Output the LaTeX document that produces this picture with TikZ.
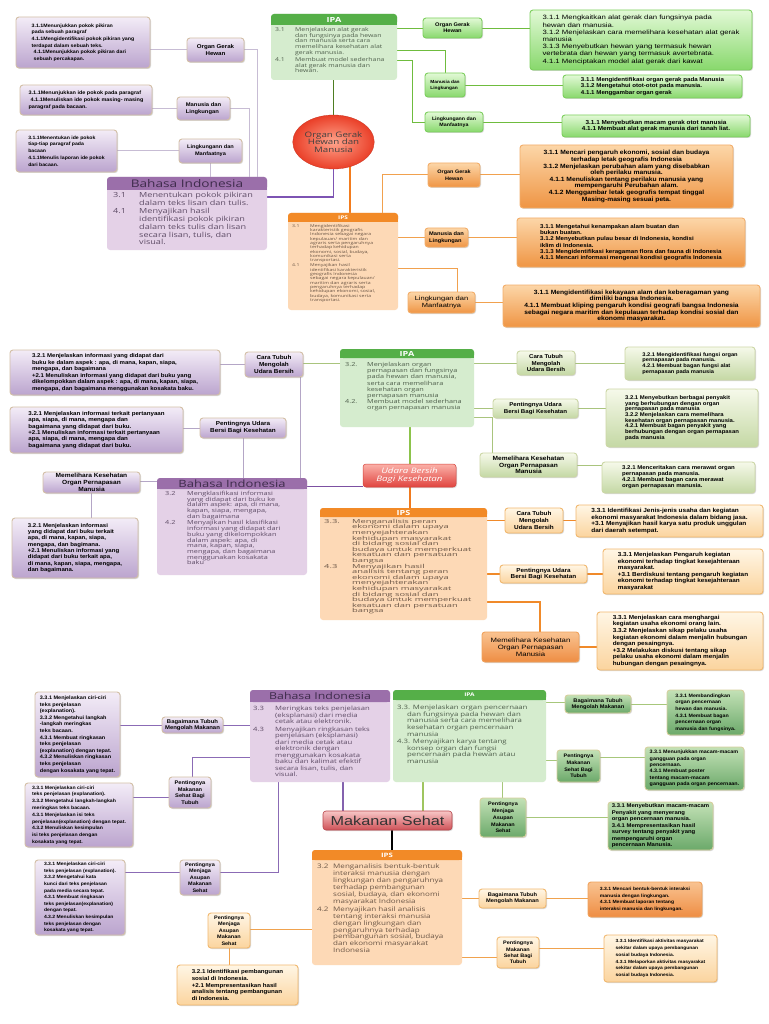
\documentclass[tikz,border=0pt]{standalone}
\usepackage{fontspec}
\setmainfont{Liberation Sans}
\newfontfamily\fb[FakeStretch=1.1]{Liberation Sans}
\newfontfamily\fg[FakeStretch=1.25]{Liberation Sans}
\newfontfamily\fs[FakeStretch=1.3]{Open Sans}
\newfontfamily\fsw[FakeStretch=1.7]{Open Sans}
\usetikzlibrary{shadows,shapes.geometric}
\pgfdeclarelayer{bg}\pgfsetlayers{bg,main}
\newcommand\nmb[2]{\makebox[#1][l]{#2}}
\newcommand\nxt[1]{\hspace*{#1}}
\newcommand\bx[8][]{%
 \pgfmathsetmacro\bxw{#6-#4}\pgfmathsetmacro\bxh{#7-#5}%
 \node[#3,minimum width=\bxw pt,minimum height=\bxh pt,#1] (#2) at ({(#4+#6)/2},{(#5+#7)/2}) {#8};}
\newcommand\subj[8]{%
 \pgfmathsetmacro\bxw{#4-#2}\pgfmathsetmacro\bxh{#5-#3}%
 \node[#7body,minimum width=\bxw pt,minimum height=\bxh pt] (#1) at ({(#2+#4)/2},{(#3+#5)/2}) {};
 \fill[#7hdr,rounded corners=3pt] (#2,#3) rectangle (#4,#6);
 \fill[#7hdr] (#2,{(#3+#6)/2}) rectangle (#4,#6);
 \node[#7ttl] (#1t) at ({(#2+#4)/2},{(#3+#6)/2}) {#8};}
\definecolor{purT}{HTML}{F3ECF7}\definecolor{purB}{HTML}{BBA4CE}\definecolor{purD}{HTML}{D3BFA6}
\definecolor{bhsH}{HTML}{9B6FAA}\definecolor{bhsB}{HTML}{E4D1E7}\definecolor{bhsT}{HTML}{3E2B4B}\definecolor{bhsX}{HTML}{5E4C66}
\definecolor{ipaH}{HTML}{55AF48}\definecolor{ipaB}{HTML}{D5ECCE}\definecolor{ipaX}{HTML}{4E5E4B}
\definecolor{ipsH}{HTML}{F28A27}\definecolor{ipsB}{HTML}{FDD9B6}\definecolor{ipsX}{HTML}{6B5646}
\definecolor{gAT}{HTML}{E2F9D6}\definecolor{gAB}{HTML}{88D86C}\definecolor{gAD}{HTML}{7DCF5E}
\definecolor{gBT}{HTML}{F6F9EA}\definecolor{gBB}{HTML}{C4D8A4}\definecolor{gBD}{HTML}{CCD7A6}
\definecolor{gCT}{HTML}{C3E1B6}\definecolor{gCB}{HTML}{6BA96A}\definecolor{gCD}{HTML}{D6CF9C}
\definecolor{oAT}{HTML}{FCD6A8}\definecolor{oAB}{HTML}{EF9544}\definecolor{oAD}{HTML}{F3AE6A}
\definecolor{oBT}{HTML}{FFF6E5}\definecolor{oBB}{HTML}{FBD49E}\definecolor{oBD}{HTML}{F1B86F}
\definecolor{oDT}{HTML}{F9C391}\definecolor{oDB}{HTML}{EE8D43}\definecolor{oDD}{HTML}{F0A25C}
\definecolor{cirI}{HTML}{FFA48C}\definecolor{cirO}{HTML}{EA3F28}
\definecolor{udT}{HTML}{FBB1A9}\definecolor{udB}{HTML}{E0443F}\definecolor{udD}{HTML}{D5433C}
\definecolor{mkT}{HTML}{F7C6C6}\definecolor{mkB}{HTML}{CF5157}\definecolor{mkD}{HTML}{B9464C}
\definecolor{lnPa}{HTML}{C7BCD4}\definecolor{lnGa}{HTML}{6FBC3E}\definecolor{lnOa}{HTML}{F1A14E}
\definecolor{thGa}{HTML}{4E7D22}\definecolor{thPa}{HTML}{7D54B3}\definecolor{thOa}{HTML}{F27C1E}
\definecolor{lnPb}{HTML}{B4A6C6}\definecolor{lnGb}{HTML}{A9C47D}\definecolor{lnOb}{HTML}{F08A2A}
\definecolor{thGb}{HTML}{8CC34B}\definecolor{thPb}{HTML}{7C50A2}\definecolor{thOb}{HTML}{F07A1E}
\definecolor{lnPc}{HTML}{8B6BB5}\definecolor{lnGc}{HTML}{A7C77B}\definecolor{lnOc}{HTML}{F0A24E}
\definecolor{thPc}{HTML}{8462AE}\definecolor{thGc}{HTML}{9FC55F}
\begin{document}
\begin{tikzpicture}[x=1pt,y=-1pt,
 fz/.style 2 args={font=\fb\bfseries\fontsize{#1}{#2}\selectfont},
 bxbase/.style={rectangle,rounded corners=3pt,line width=0.9pt,inner sep=1.2pt,text=black,
   drop shadow={shadow xshift=1pt,shadow yshift=-1pt,opacity=0.3}},
 pbox/.style={bxbase,draw=purD,top color=purT,bottom color=purB,align=left,fz={5}{6.5}},
 pnode/.style={pbox,align=center},
 gboxA/.style={bxbase,draw=gAD,top color=gAT,bottom color=gAB,align=left,fz={5}{6.5}},
 gnodeA/.style={gboxA,align=center},
 gboxB/.style={bxbase,draw=gBD,top color=gBT,bottom color=gBB,align=left,fz={5}{6.5}},
 gnodeB/.style={gboxB,align=center},
 gboxC/.style={bxbase,draw=gCD,top color=gCT,bottom color=gCB,align=left,fz={5}{6.5}},
 gnodeC/.style={gboxC,align=center},
 oboxA/.style={bxbase,draw=oAD,top color=oAT,bottom color=oAB,align=left,fz={5}{6.5}},
 onodeA/.style={oboxA,align=center},
 oboxB/.style={bxbase,draw=oBD,top color=oBT,bottom color=oBB,align=left,fz={5}{6.5}},
 onodeB/.style={oboxB,align=center},
 oboxD/.style={bxbase,draw=oDD,top color=oDT,bottom color=oDB,align=left,fz={5}{6.5}},
 onodeD/.style={oboxD,align=center},
 bhsbody/.style={rectangle,rounded corners=3pt,fill=bhsB,inner sep=0},
 bhshdr/.style={fill=bhsH},
 bhsttl/.style={text=bhsT,inner sep=0},
 ipabody/.style={rectangle,rounded corners=3pt,fill=ipaB,inner sep=0},
 ipahdr/.style={fill=ipaH},
 ipattl/.style={text=white,inner sep=0},
 ipsbody/.style={rectangle,rounded corners=3pt,fill=ipsB,inner sep=0},
 ipshdr/.style={fill=ipsH},
 ipsttl/.style={text=white,inner sep=0},
 subtxt/.style={anchor=north west,inner sep=0,align=left},
 circ/.style={ellipse,inner color=cirI,outer color=cirO,draw=cirO!85!black,line width=0.3pt,
   text=black!75,align=center,inner sep=0,font=\fs\fontsize{7.5}{7.5}\selectfont},
 udara/.style={rectangle,rounded corners=3pt,top color=udT,bottom color=udB,draw=udD,line width=0.5pt,
   text=white,align=center,inner sep=0,font=\fs\itshape\fontsize{7.5}{8.3}\selectfont,
   drop shadow={shadow xshift=1pt,shadow yshift=-1pt,opacity=0.3}},
 mksh/.style={rectangle,rounded corners=3pt,top color=mkT,bottom color=mkB,draw=mkD,line width=0.6pt,
   text=black!80,inner sep=0,font=\fg\fontsize{13}{13}\selectfont,
   drop shadow={shadow xshift=1pt,shadow yshift=-1pt,opacity=0.3}},
 lpa/.style={draw=lnPa,line width=1pt}, lga/.style={draw=lnGa,line width=0.9pt}, loa/.style={draw=lnOa,line width=1pt},
 tga/.style={draw=thGa,line width=1.5pt}, tpa/.style={draw=thPa,line width=1.3pt}, toa/.style={draw=thOa,line width=2.5pt},
 lpb/.style={draw=lnPb,line width=1pt}, lgb/.style={draw=lnGb,line width=1pt}, lob/.style={draw=lnOb,line width=1.4pt},
 tgb/.style={draw=thGb,line width=2pt}, tpb/.style={draw=thPb,line width=1pt}, tob/.style={draw=thOb,line width=2pt},
 lpc/.style={draw=lnPc,line width=1pt}, lgc/.style={draw=lnGc,line width=1pt}, loc/.style={draw=lnOc,line width=1pt},
 tpc/.style={draw=thPc,line width=1.6pt}, tgc/.style={draw=thGc,line width=1.6pt}, tkc/.style={draw=black,line width=2pt}
]
\useasboundingbox (0,0) rectangle (768,1024);
\begin{pgfonlayer}{bg}\fill[white] (0,0) rectangle (768,1024);\end{pgfonlayer}

% ================= TOP SECTION =================
\bx[fz={4.8}{6.6}]{p1}{pbox}{16}{17}{150}{68}{3.1.1Menunjukkan pokok pikiran\\pada sebuah paragraf\\4.1.1Mengidentifikasi pokok pikiran yang\\terdapat dalam sebuah teks.\\\hspace*{2pt}4.1.1Menunjukkan pokok pikiran dari\\\hspace*{2pt}sebuah percakapan.}
\bx[fz={5.6}{6.7}]{pn1}{pnode}{187}{38}{244}{62}{Organ Gerak\\Hewan}
\bx[fz={5}{6.8}]{p2}{pbox}{20}{85}{152}{115}{3.1.1Menunjukkan ide pokok  pada paragraf\\\hspace*{2pt}4.1.1Menuliskan ide pokok masing- masing\\paragraf pada bacaan.}
\bx[fz={5.3}{6.7},align=left]{pn2}{pnode}{177}{97}{230}{120}{Manusia dan\\Lingkungan}
\bx[fz={4.7}{6.7}]{p3}{pbox}{16}{130}{117}{172}{3.1.1Menentukan ide pokok\\tiap-tiap  paragraf pada\\bacaan\\4.1.1Menulis laporan ide pokok\\dari bacaan.}
\bx[fz={5.1}{6.7}]{pn3}{pnode}{179}{139}{242}{163}{Lingkungann dan\\Manfaatnya}

\subj{bi1}{107}{177}{267}{250}{190}{bhs}{\fs\fontsize{10.5}{10}\selectfont Bahasa Indonesia}
\node[subtxt,text=bhsX,font=\fs\fontsize{7}{7.7}\selectfont] (bi1c) at (113,192) {\nmb{26pt}{3.1}Menentukan pokok pikiran\\ \nxt{26pt}dalam teks lisan dan tulis.\\[1pt] \nmb{26pt}{4.1}Menyajikan hasil\\ \nxt{26pt}identifikasi pokok pikiran\\ \nxt{26pt}dalam teks tulis dan lisan\\ \nxt{26pt}secara lisan, tulis, dan\\ \nxt{26pt}visual.};

\subj{ipa1}{271}{14}{397}{80}{25}{ipa}{\fs\bfseries\fontsize{7}{7}\selectfont IPA}
\node[subtxt,text=ipaX,font=\fs\fontsize{5.3}{5.8}\selectfont] (ipa1c) at (275,27) {\nmb{20pt}{3.1}Menjelaskan alat gerak\\ \nxt{20pt}dan fungsinya pada hewan\\ \nxt{20pt}dan manusia serta cara\\ \nxt{20pt}memelihara kesehatan alat\\ \nxt{20pt}gerak manusia.\\[1pt] \nmb{20pt}{4.1}Membuat model sederhana\\ \nxt{20pt}alat gerak manusia dan\\ \nxt{20pt}hewan.};

\bx{c1}{circ}{298}{115}{369}{169}{Organ Gerak\\Hewan dan\\Manusia}

\subj{ips1}{288}{213}{398}{310}{222}{ips}{\fs\bfseries\fontsize{5}{5}\selectfont IPS}
\node[subtxt,text=ipsX,font=\fs\fontsize{3.95}{4.3}\selectfont] (ips1c) at (292,224) {\nmb{18pt}{3.1}Mengidentifikasi\\ \nxt{18pt}karakteristik geografis\\ \nxt{18pt}Indonesia sebagai negara\\ \nxt{18pt}kepulauan/ maritim dan\\ \nxt{18pt}agraris serta pengaruhnya\\ \nxt{18pt}terhadap kehidupan\\ \nxt{18pt}ekonomi, sosial, budaya,\\ \nxt{18pt}komunikasi serta\\ \nxt{18pt}transportasi.\\[1pt] \nmb{18pt}{4.1}Menyajikan hasil\\ \nxt{18pt}identifikasi karakteristik\\ \nxt{18pt}geografis Indonesia\\ \nxt{18pt}sebagai negara kepulauan/\\ \nxt{18pt}maritim dan agraris serta\\ \nxt{18pt}pengaruhnya terhadap\\ \nxt{18pt}kehidupan ekonomi, sosial,\\ \nxt{18pt}budaya, komunikasi serta\\ \nxt{18pt}transportasi.};

\bx[fz={5.2}{6.2}]{gn1}{gnodeA}{423}{18}{482}{38}{Organ Gerak\\Hewan}
\bx[font=\fg\fontsize{6.2}{7.2}\selectfont]{g1}{gboxA}{530}{10}{752}{70}{3.1.1 Mengkaitkan alat gerak dan fungsinya pada\\hewan dan manusia.\\3.1.2 Menjelaskan cara memelihara kesehatan alat gerak\\manusia\\3.1.3 Menyebutkan hewan yang termasuk hewan\\vertebrata dan hewan yang termasuk avertebrata.\\4.1.1 Menciptakan model alat gerak dari kawat}
\bx[fz={4.4}{6.2},align=left]{gn2}{gnodeA}{425}{73}{465}{97}{Manusia dan\\Lingkungan}
\bx[fz={5.6}{6.3}]{g2}{gboxA}{563}{75}{742}{98}{3.1.1 Mengidentifikasi organ gerak pada Manusia\\3.1.2 Mengetahui otot-otot pada manusia.\\4.1.1 Menggambar organ gerak}
\bx[fz={4.8}{6}]{gn3}{gnodeA}{425}{112}{483}{132}{Lingkungann dan\\Manfaatnya}
\bx[fz={5.8}{6.7},align=center]{g3}{gboxA}{562}{115}{750}{137}{3.1.1 Menyebutkan macam gerak otot manusia\\4.1.1 Membuat alat gerak manusia dari tanah liat.}

\bx[fz={5}{6.5}]{on1}{onodeA}{428}{163}{480}{187}{Organ Gerak\\Hewan}
\bx[fz={6.1}{6.6},align=center]{o1}{oboxA}{520}{145}{733}{208}{3.1.1 Mencari pengaruh ekonomi, sosial dan budaya\\terhadap letak geografis Indonesia\\3.1.2 Menjelaskan perubahan alam yang disebabkan\\oleh perilaku manusia.\\4.1.1 Menuliskan tentang perilaku manusia yang\\mempengaruhi Perubahan alam.\\4.1.2 Menggambar letak geografis tempat tinggal\\Masing-masing sesuai peta.}
\bx[fz={5.2}{6.4},align=left]{on2}{onodeA}{425}{228}{468}{247}{Manusia dan\\Lingkungan}
\bx[fz={5.6}{6.3}]{o2}{oboxA}{517}{218}{745}{267}{3.1.1 Mengetahui kenampakan alam buatan dan\\ bukan buatan.\\3.1.2 Menyebutkan pulau besar di Indonesia, kondisi\\iklim di Indonesia.\\3.1.3 Mengidentifikasi keragaman flora dan fauna di Indonesia\\4.1.1 Mencari informasi mengenai kondisi geografis Indonesia}
\bx[font=\fg\fontsize{6}{7}\selectfont]{on3}{onodeA}{408}{292}{475}{313}{Lingkungan dan\\Manfaatnya}
\bx[fz={6.1}{6.7},align=center]{o3}{oboxA}{503}{285}{760}{327}{3.1.1 Mengidentifikasi kekayaan alam  dan keberagaman yang\\dimiliki bangsa Indonesia.\\4.1.1 Membuat kliping pengaruh kondisi geografi bangsa Indonesia\\sebagai negara maritim dan kepulauan terhadap kondisi sosial dan\\ekonomi masyarakat.}

% ================= MIDDLE SECTION =================
\bx[fz={5.5}{6.5}]{p4}{pbox}{10}{350}{220}{395}{3.2.1 Menjelaskan informasi yang didapat dari\\buku ke dalam aspek : apa, di mana, kapan, siapa,\\mengapa,  dan bagaimana\\+2.1 Menuliskan informasi yang  didapat dari buku yang\\dikelompokkan dalam  aspek : apa, di mana, kapan, siapa,\\mengapa,  dan bagaimana menggunakan kosakata baku.}
\bx[fz={5.8}{7}]{pn4}{pnode}{245}{352}{303}{377}{Cara Tubuh\\Mengolah\\Udara Bersih}
\bx[fz={5.6}{6.3}]{p5}{pbox}{10}{407}{183}{453}{3.2.1 Menjelaskan informasi terkait pertanyaan\\ apa,  siapa, di mana, mengapa dan\\bagaimana yang didapat dari buku.\\+2.1 Menuliskan informasi terkait pertanyaan\\apa, siapa, di mana, mengapa dan\\bagaimana yang didapat dari buku.}
\bx[fz={5.8}{7}]{pn5}{pnode}{200}{418}{286}{438}{Pentingnya Udara\\Bersi Bagi Kesehatan}
\bx[fz={6}{6.7}]{pn6}{pnode}{43}{472}{140}{493}{Memelihara Kesehatan\\Organ Pernapasan\\Manusia}
\bx[fz={5.5}{6.3}]{p6}{pbox}{12}{518}{138}{578}{3.2.1 Menjelaskan informasi\\yang didapat dari buku terkait\\apa, di mana, kapan, siapa,\\mengapa, dan bagimana.\\ +2.1 Menuliskan informasi yang\\didapat  dari buku terkait apa,\\di mana, kapan,  siapa, mengapa,\\dan bagaimana.}

\subj{bi2}{157}{478}{307}{575}{489}{bhs}{\fs\fontsize{10}{10}\selectfont Bahasa Indonesia}
\node[subtxt,text=bhsX,font=\fs\fontsize{5.6}{5.7}\selectfont] (bi2c) at (165,491) {\nmb{22pt}{3.2}Mengklasifikasi informasi\\ \nxt{22pt}yang didapat dari buku ke\\ \nxt{22pt}dalam aspek: apa, di mana,\\ \nxt{22pt}kapan, siapa, mengapa,\\ \nxt{22pt}dan bagaimana\\[1pt] \nmb{22pt}{4.2}Menyajikan hasil klasifikasi\\ \nxt{22pt}informasi yang didapat dari\\ \nxt{22pt}buku yang dikelompokkan\\ \nxt{22pt}dalam aspek: apa, di\\ \nxt{22pt}mana, kapan, siapa,\\ \nxt{22pt}mengapa, dan bagaimana\\ \nxt{22pt}menggunakan kosakata\\ \nxt{22pt}baku};

\subj{ipa2}{340}{349}{474}{427}{358}{ipa}{\fs\bfseries\fontsize{7}{7}\selectfont IPA}
\node[subtxt,text=ipaX,font=\fs\fontsize{5.6}{6.2}\selectfont] (ipa2c) at (345,362) {\nmb{22pt}{3.2.}Menjelaskan organ\\ \nxt{22pt}pernapasan dan fungsinya\\ \nxt{22pt}pada hewan dan manusia,\\ \nxt{22pt}serta cara memelihara\\ \nxt{22pt}kesehatan organ\\ \nxt{22pt}pernapasan manusia\\ \nmb{22pt}{4.2.}Membuat model sederhana\\ \nxt{22pt}organ pernapasan manusia};

\bx{c2}{udara}{363}{464}{456}{487}{Udara Bersih\\Bagi Kesehatan}

\subj{ips2}{320}{508}{487}{620}{517}{ips}{\fs\bfseries\fontsize{7}{7}\selectfont IPS}
\node[subtxt,text=ipsX,font=\fsw\fontsize{5.5}{5.6}\selectfont] (ips2c) at (324,519) {\nmb{28pt}{3.3.}Menganalisis peran\\ \nxt{28pt}ekonomi dalam upaya\\ \nxt{28pt}menyejahterakan\\ \nxt{28pt}kehidupan masyarakat\\ \nxt{28pt}di bidang sosial dan\\ \nxt{28pt}budaya untuk memperkuat\\ \nxt{28pt}kesatuan dan persatuan\\ \nxt{28pt}bangsa\\ \nmb{28pt}{4.3}Menyajikan hasil\\ \nxt{28pt}analisis tentang peran\\ \nxt{28pt}ekonomi dalam upaya\\ \nxt{28pt}menyejahterakan\\ \nxt{28pt}kehidupan masyarakat\\ \nxt{28pt}di bidang sosial dan\\ \nxt{28pt}budaya untuk memperkuat\\ \nxt{28pt}kesatuan dan persatuan\\ \nxt{28pt}bangsa};

\bx[fz={5.6}{6.5}]{gn4}{gnodeB}{517}{351}{575}{375}{Cara Tubuh\\Mengolah\\Udara Bersih}
\bx[fz={5.2}{5.8}]{g4}{gboxB}{625}{347}{755}{380}{3.2.1 Mengidentifikasi fungsi organ\\ pernapasan  pada manusia.\\ 4.2.1 Membuat bagan fungsi alat\\pernapasan pada manusia}
\bx[fz={5.6}{6.5}]{gn5}{gnodeB}{493}{399}{578}{418}{Pentingnya Udara\\Bersi Bagi Kesehatan}
\bx[fz={5.4}{5.7}]{g5}{gboxB}{606}{389}{758}{447}{3.2.1 Menyebutkan berbagai penyakit\\yang berhubungan dengan organ\\pernapasan pada manusia\\3.2.2 Menjelaskan cara memelihara\\kesehatan organ pernapasan manusia.\\ 4.2.1 Membuat bagan penyakit yang\\berhubungan dengan organ pernapasan\\pada manusia}
\bx[fz={6}{6.7}]{gn6}{gnodeB}{480}{453}{577}{477}{Memelihara Kesehatan\\Organ Pernapasan\\Manusia}
\bx[fz={5.5}{6}]{g6}{gboxB}{602}{462}{755}{493}{3.2.1 Menceritakan cara merawat organ\\pernapasan pada manusia.\\ 4.2.1 Membuat bagan cara merawat\\organ pernapasan manusia.}

\bx[fz={5.8}{7}]{on4}{onodeB}{505}{508}{563}{533}{Cara Tubuh\\Mengolah\\Udara Bersih}
\bx[fz={5.9}{6.7}]{o4}{oboxB}{576}{505}{763}{537}{3.3.1 Identifikasi Jenis-jenis usaha dan kegiatan\\ekonomi masyarakat Indonesia dalam bidang jasa.\\+3.1 Menyajikan hasil karya satu produk unggulan\\dari daerah setempat.}
\bx[fz={5.8}{6.8}]{on5}{onodeB}{500}{565}{587}{583}{Pentingnya Udara\\Bersi Bagi Kesehatan}
\bx[fz={5.8}{6.5}]{o5}{oboxB}{603}{549}{763}{594}{3.3.1 Menjelaskan Pengaruh kegiatan\\ekonomi  terhadap  tingkat kesejahteraan\\masyarakat.\\+3.1 Berdiskusi tentang pengaruh kegiatan\\ekonomi  terhadap  tingkat kesejahteraan\\masyarakat}
\bx[font=\fg\fontsize{6.2}{7.2}\selectfont]{on6}{onodeD}{482}{632}{579}{662}{Memelihara Kesehatan\\Organ Pernapasan\\Manusia}
\bx[fz={5.8}{6.6}]{o6}{oboxB}{597}{612}{763}{670}{3.3.1 Menjelaskan cara menghargai\\kegiatan usaha ekonomi orang lain.\\3.3.2 Menjelaskan sikap pelaku usaha\\kegiatan ekonomi dalam menjalin hubungan\\dengan pesaingnya.\\+3.2 Melakukan diskusi tentang sikap\\pelaku usaha ekonomi dalam menjalin\\hubungan dengan pesaingnya.}

% ================= BOTTOM SECTION =================
\bx[fz={5}{6.6}]{p7}{pbox}{35}{692}{120}{777}{3.3.1 Menjelaskan ciri-ciri\\ teks penjelasan\\(explanation).\\3.3.2 Mengetahui langkah\\-langkah  meringkas\\teks bacaan.\\4.3.1 Membuat ringkasan\\teks penjelasan\\(explanation) dengan tepat.\\4.3.2 Menuliskan ringkasan\\ teks penjelasan\\dengan kosakata yang tepat.}
\bx[fz={5.4}{6.5}]{pn7}{pnode}{162}{717}{223}{733}{Bagaimana Tubuh\\Mengolah Makanan}
\bx[fz={4.7}{6.8}]{p8}{pbox}{25}{783}{133}{847}{3.3.1 Menjelaskan ciri-ciri\\teks penjelasan (explanation).\\3.3.2 Mengetahui langkah-langkah\\meringkas teks bacaan.\\4.3.1 Menjelaskan  isi teks\\penjelasan(explanation) dengan tepat.\\4.3.2 Menuliskan kesimpulan\\ isi teks penjelasan dengan\\kosakata yang tepat.}
\bx[fz={5.2}{6.6}]{pn8}{pnode}{169}{777}{211}{808}{Pentingnya\\Makanan\\Sehat Bagi\\Tubuh}
\bx[fz={4.6}{6.6}]{p9}{pbox}{35}{860}{125}{935}{3.3.1 Menjelaskan ciri-ciri\\teks penjelasan (explanation).\\3.3.2 Mengetahui kata\\kunci dari teks penjelasan\\pada media secara tepat.\\4.3.1 Membuat ringkasan\\teks penjelasan(explanation)\\dengan tepat.\\4.3.2 Menuliskan kesimpulan\\teks penjelasan dengan\\kosakata yang tepat.}
\bx[fz={5}{6.4}]{pn9}{pnode}{180}{860}{220}{895}{Pentingnya\\Menjaga\\Asupan\\Makanan\\Sehat}

\subj{bi3}{250}{690}{390}{782}{702}{bhs}{\fs\fontsize{9.5}{9.5}\selectfont Bahasa Indonesia}
\node[subtxt,text=bhsX,font=\fs\fontsize{5.9}{6.5}\selectfont] (bi3c) at (253,706) {\nmb{22pt}{3.3}Meringkas teks penjelasan\\ \nxt{22pt}(eksplanasi) dari media\\ \nxt{22pt}cetak atau elektronik.\\[1pt] \nmb{22pt}{4.3}Menyajikan ringkasan teks\\ \nxt{22pt}penjelasan (eksplanasi)\\ \nxt{22pt}dari media cetak atau\\ \nxt{22pt}elektronik dengan\\ \nxt{22pt}menggunakan kosakata\\ \nxt{22pt}baku dan kalimat efektif\\ \nxt{22pt}secara lisan, tulis, dan\\ \nxt{22pt}visual.};

\subj{ipa3}{393}{690}{546}{782}{700}{ipa}{\fs\bfseries\fontsize{5}{5}\selectfont IPA}
\node[subtxt,text=ipaX,font=\fs\fontsize{6}{6.6}\selectfont] (ipa3c) at (397,705) {3.3. Menjelaskan organ pencernaan\\ \nxt{10pt}dan fungsinya pada hewan dan\\ \nxt{10pt}manusia serta cara memelihara\\ \nxt{10pt}kesehatan organ pencernaan\\ \nxt{10pt}manusia\\[1pt] 4.3. Menyajikan karya tentang\\ \nxt{10pt}konsep organ dan fungsi\\ \nxt{10pt}pencernaan pada hewan atau\\ \nxt{10pt}manusia};

\bx{c3}{mksh}{323}{811}{452}{830}{Makanan Sehat}

\subj{ips3}{312}{850}{462}{965}{860}{ips}{\fs\bfseries\fontsize{6}{6}\selectfont IPS}
\node[subtxt,text=ipsX,font=\fs\fontsize{6.2}{6.9}\selectfont] (ips3c) at (317,864) {\nmb{16pt}{3.2}Menganalisis bentuk-bentuk\\ \nxt{16pt}interaksi manusia dengan\\ \nxt{16pt}lingkungan  dan pengaruhnya\\ \nxt{16pt}terhadap pembangunan\\ \nxt{16pt}sosial, budaya, dan ekonomi\\ \nxt{16pt}masyarakat Indonesia\\[1pt] \nmb{16pt}{4.2}Menyajikan hasil analisis\\ \nxt{16pt}tentang interaksi manusia\\ \nxt{16pt}dengan lingkungan  dan\\ \nxt{16pt}pengaruhnya terhadap\\ \nxt{16pt}pembangunan sosial, budaya\\ \nxt{16pt}dan ekonomi masyarakat\\ \nxt{16pt}Indonesia};

\bx[fz={5.2}{6.2}]{gn7}{gnodeC}{565}{695}{631}{713}{Bagaimana Tubuh\\Mengolah Makanan}
\bx[fz={4.8}{6.6}]{g7}{gboxC}{667}{690}{744}{735}{3.3.1 Membandingkan\\organ pencernaan\\hewan dan manusia.\\4.3.1 Membuat bagan\\pencernaan  organ\\manusia  dan fungsinya.}
\bx[fz={5}{6.6}]{gn8}{gnodeC}{557}{750}{600}{782}{Pentingnya\\Makanan\\Sehat Bagi\\Tubuh}
\bx[fz={4.9}{6.4}]{g8}{gboxC}{645}{747}{744}{790}{3.3.1 Menunjukkan macam-macam\\gangguan  pada organ\\pencernaan.\\4.3.1 Membuat poster\\tentang  macam-macam\\gangguan  pada organ pencernaan.}
\bx[fz={5}{6.8}]{gn9}{gnodeC}{480}{798}{526}{837}{Pentingnya\\Menjaga\\Asupan\\Makanan\\Sehat}
\bx[fz={5.4}{6.5}]{g9}{gboxC}{608}{802}{713}{850}{3.3.1 Menyebutkan macam-macam\\Penyakit yang menyerang\\organ pencernaan manusia.\\3.4.1 Mempresentasikan hasil\\survey tentang penyakit yang\\mempengaruhi organ\\pencernaan Manusia.}

\bx[fz={5}{6.4}]{on7}{onodeB}{208}{913}{250}{948}{Pentingnya\\Menjaga\\Asupan\\Makanan\\Sehat}
\bx[fz={5.6}{6.6}]{o7}{oboxB}{177}{965}{298}{1005}{3.2.1 Identifikasi pembangunan\\sosial di Indonesia.\\+2.1 Mempresentasikan hasil\\analisis tentang pembangunan\\di Indonesia.}
\bx[fz={5.2}{6.2}]{on8}{onodeB}{479}{889}{546}{908}{Bagaimana Tubuh\\Mengolah Makanan}
\bx[fz={4.6}{6.6}]{o8}{oboxD}{588}{882}{702}{917}{3.3.1 Mencari bentuk-bentuk interaksi\\manusia dengan lingkungan.\\4.3.1 Membuat laporan tentang\\interaksi manusia dan lingkungan.}
\bx[fz={5}{6.2}]{on9}{onodeB}{497}{937}{539}{968}{Pentingnya\\Makanan\\Sehat Bagi\\Tubuh}
\bx[fz={4.5}{6.7}]{o9}{oboxB}{604}{935}{717}{982}{3.3.1 Identifikasi aktivitas masyarakat\\sekitar dalam upaya pembangunan\\sosial budaya Indonesia.\\4.3.1 Melaporkan aktivitas masyarakat\\sekitar dalam upaya pembangunan\\sosial budaya  Indonesia.}

% ================= CONNECTORS =================
\coordinate (k1) at (257,177);\coordinate (k2) at (249,177);\coordinate (k3) at (267,197);
\coordinate (k4) at (350,150);\coordinate (y50) at (0,50);\coordinate (k6) at (412,60);
\coordinate (k7) at (382,213);\coordinate (k8) at (398,268);\coordinate (k8b) at (457,268);
\coordinate (k10) at (300,478);\coordinate (k12) at (0,481);\coordinate (k13) at (0,486);
\coordinate (k14) at (492,417);\coordinate (k15) at (540,602);\coordinate (k16) at (192,757);
\coordinate (k17) at (0,797);\coordinate (k18) at (278,872);\coordinate (k19) at (343,0);
\coordinate (k20) at (423,0);\coordinate (k21) at (392,0);\coordinate (k22) at (0,929);
\coordinate (k23) at (0,702);\coordinate (k24) at (0,760);\coordinate (k25) at (0,757);
\coordinate (k26) at (502,0);\coordinate (k27) at (0,957);\coordinate (k28) at (0,948);
\begin{pgfonlayer}{bg}
% top
\draw[lpa] (p1.east |- pn1) -- (pn1.west);
\draw[lpa] (pn1.east) -| (k1);
\draw[lpa] (p2.east |- pn2) -- (pn2.west);
\draw[lpa] (pn2.east) -| (k2);
\draw[lpa] (p3.east |- pn3) -- (pn3.west);
\draw[lpa] (pn3.south) -- (pn3.south |- bi1.north);
\draw[tga] (c1.center |- ipa1.south) -- (c1.center);
\draw[tpa] (c1.center) |- (k3);
\draw[toa] (k4) -- (k4 |- ips1.north);
\draw[lga] (ipa1.east |- gn1) -- (gn1.west);
\draw[lga] (gn1.east) -- (g1.west |- gn1);
\draw[lga] (ipa1.east |- y50) -| (gn2.north);
\draw[lga] (gn2.east) -- (g2.west |- gn2);
\draw[lga] (ipa1.east |- k6) -- (k6) |- (gn3.west);
\draw[lga] (gn3.east) -- (g3.west |- gn3);
\draw[loa] (k7) |- (on1.west);
\draw[loa] (on1.east) -- (o1.west |- on1);
\draw[loa] (ips1.east |- on2) -- (on2.west);
\draw[loa] (on2.east) -- (o2.west |- on2);
\draw[loa] (k8) -- (k8b) -- (k8b |- on3.north);
\draw[loa] (on3.east) -- (o3.west |- on3);
% middle
\draw[lpb] (p4.east |- pn4) -- (pn4.west);
\draw[lpb] (pn4.south -| k10) -- (k10);
\draw[lgb] (pn4.east |- gn4) -- (gn4.west);
\draw[lpb] (p5.east |- pn5) -- (pn5.west);
\draw[lpb] (pn5.south) -- (pn5.south |- bi2.north);
\draw[lpb] (pn6.east |- k12) -- (bi2.west |- k12);
\draw[lpb] (pn6.south) -- (pn6.south |- p6.north);
\draw[tpb] (bi2.east |- k13) -- (c2.west |- k13);
\draw[tgb] (c2.north |- ipa2.south) -- (c2.north);
\draw[tob] (c2.south) -- (c2.south |- ips2.north);
\draw[lgb] (gn4.east) -- (g4.west |- gn4);
\draw[lgb] (ipa2.east |- gn5) -- (gn5.west);
\draw[lgb] (gn5.east) -- (g5.west |- gn5);
\draw[lgb] (ipa2.east |- k14) -- (k14) -- (k14 |- gn6.north);
\draw[lgb] (gn6.east) -- (g6.west |- gn6);
\draw[lob] (ips2.east |- on4) -- (on4.west);
\draw[lob] (on4.east) -- (o4.west |- on4);
\draw[lob] (ips2.east |- on5) -- (on5.west);
\draw[lob] (on5.east) -- (o5.west |- on5);
\draw[lob] (ips2.east |- k15) -- (k15) -- (k15 |- on6.north);
\draw[lob] (on6.east) -- (o6.west |- on6);
% bottom
\draw[lpc] (p7.east |- pn7) -- (pn7.west);
\draw[lpc] (pn7.east) -- (bi3.west |- pn7);
\draw[lpc] (bi3.west |- k16) -- (k16) -- (k16 |- pn8.north);
\draw[lpc] (p8.east |- k17) -- (pn8.west |- k17);
\draw[lpc] (k18 |- bi3.south) -- (k18) -- (pn9.east |- k18);
\draw[lpc] (p9.east |- k18) -- (pn9.west |- k18);
\draw[tpc] (k19 |- bi3.south) -- (k19 |- c3.north);
\draw[tgc] (k20 |- ipa3.south) -- (k20 |- c3.north);
\draw[tkc] (k21 |- c3.south) -- (k21 |- ips3.north);
\draw[loc] (on7.east |- k22) -- (ips3.west |- k22);
\draw[loc] (on7.south) -- (on7.south |- o7.north);
\draw[lgc] (ipa3.east |- k23) -- (gn7.west |- k23);
\draw[lgc] (gn7.east) -- (g7.west |- gn7);
\draw[lgc] (ipa3.east |- k24) -- (gn8.west |- k24);
\draw[lgc] (gn8.east |- k25) -- (g8.west |- k25);
\draw[lgc] (k26 |- ipa3.south) -- (k26 |- gn9.north);
\draw[lgc] (gn9.east) -- (g9.west |- gn9);
\draw[loc] (ips3.east |- on8) -- (on8.west);
\draw[loc] (on8.east) -- (o8.west |- on8);
\draw[loc] (ips3.east |- k27) -- (on9.west |- k27);
\draw[loc] (on9.east |- k28) -- (o9.west |- k28);
\end{pgfonlayer}
\end{tikzpicture}
\end{document}
